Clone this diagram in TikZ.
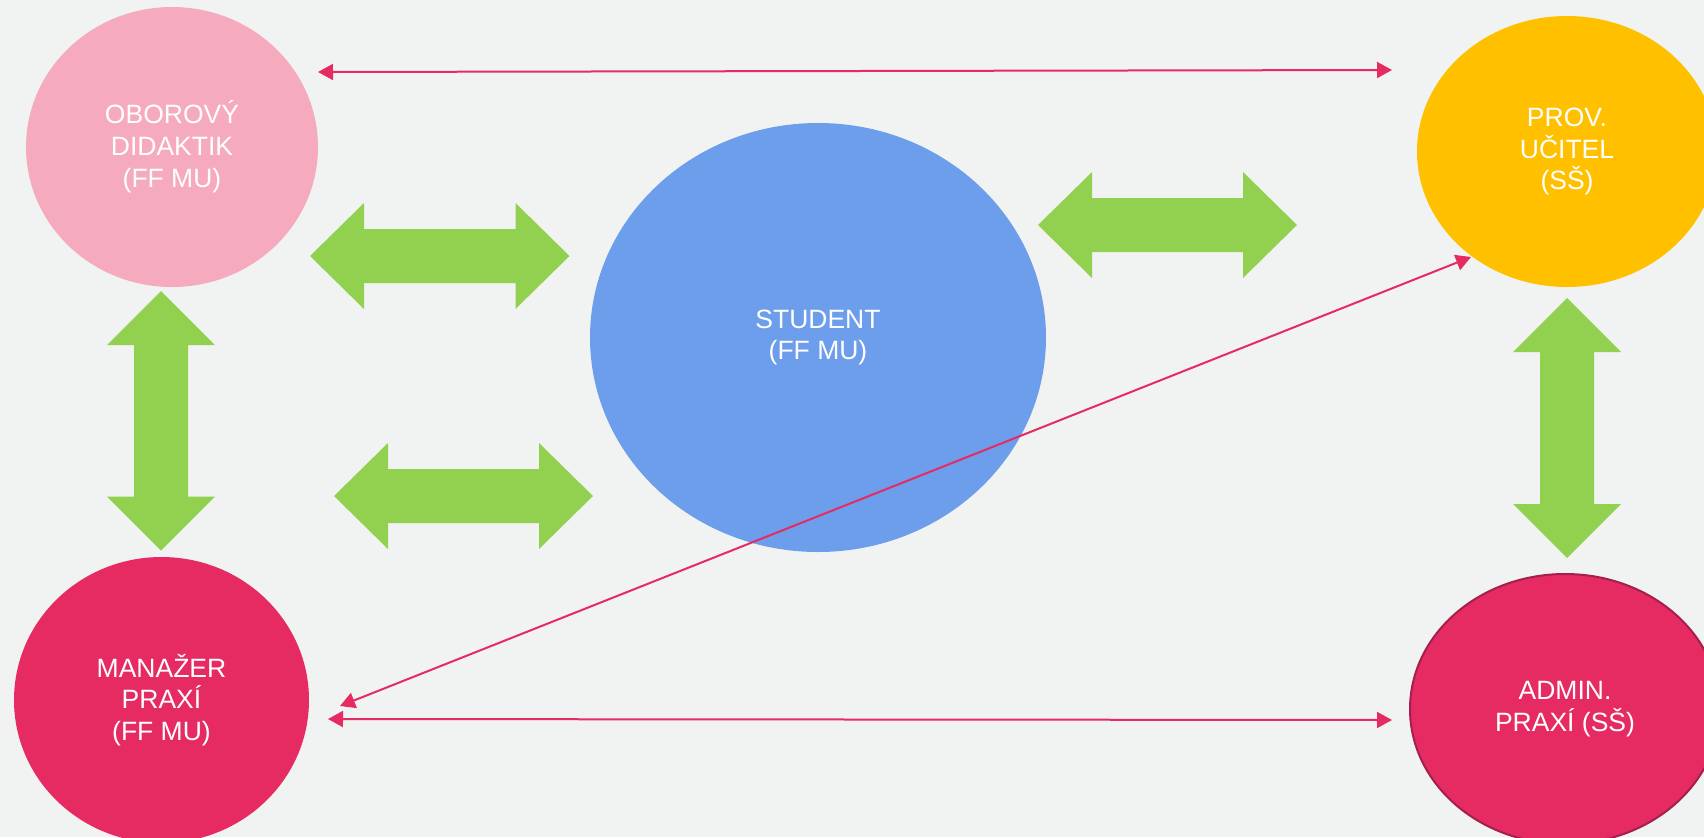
\documentclass[tikz,border=0pt]{standalone}
\usepackage{fontspec}
\setmainfont{Liberation Sans}
\usetikzlibrary{shapes.geometric,arrows.meta}
\definecolor{bgc}{HTML}{F1F3F2}
\definecolor{pinkc}{HTML}{F5AABE}
\definecolor{yellowc}{HTML}{FFC000}
\definecolor{bluec}{HTML}{6D9EEB}
\definecolor{magentac}{HTML}{E52B62}
\definecolor{greenc}{HTML}{92D050}
\definecolor{adminborder}{HTML}{A51F4E}
\newcommand\hdarrow[3]{%
  \fill[greenarr] (#1,#3) -- (#1+54,#3-53) -- (#1+54,#3-27) -- (#2-54,#3-27) -- (#2-54,#3-53) -- (#2,#3)
    -- (#2-54,#3+53) -- (#2-54,#3+27) -- (#1+54,#3+27) -- (#1+54,#3+53) -- cycle;}
\newcommand\vdarrow[3]{%
  \fill[greenarr] (#3,#1) -- (#3-54,#1+54) -- (#3-27,#1+54) -- (#3-27,#2-54) -- (#3-54,#2-54) -- (#3,#2)
    -- (#3+54,#2-54) -- (#3+27,#2-54) -- (#3+27,#1+54) -- (#3+54,#1+54) -- cycle;}
\begin{document}
\begin{tikzpicture}[x=0.5pt,y=-0.5pt,
  party/.style={ellipse, inner sep=0pt, outer sep=0pt, text=white, align=center,
    font=\fontsize{13.25pt}{15.9pt}\selectfont},
  link/.style={draw=magentac, line width=1pt,
    {Triangle[length=7.5pt,width=8pt]}-{Triangle[length=7.5pt,width=8pt]}},
  greenarr/.style={fill=greenc}]
\useasboundingbox (0,0) rectangle (1704,837);
\clip (0,0) rectangle (1704,837);
\fill[bgc] (0,0) rectangle (1704,837);
\node[party, fill=pinkc, minimum width=146pt, minimum height=140pt] (did) at (172,147) {OBOROVÝ\\DIDAKTIK\\(FF MU)};
\node[party, fill=yellowc, minimum width=150pt, minimum height=135.5pt] (ucit) at (1567,151.5) {PROV.\\UČITEL\\(SŠ)};
\node[party, fill=bluec, minimum width=228pt, minimum height=214.5pt] (stud) at (818,337.5) {STUDENT\\(FF MU)};
\node[party, fill=magentac, minimum width=147.5pt, minimum height=143pt] (man) at (161.5,700) {MANAŽER\\PRAXÍ\\(FF MU)};
\node[party, fill=magentac, draw=adminborder, line width=1pt, minimum width=155pt, minimum height=135pt] (adm) at (1565,709) {ADMIN.\\PRAXÍ (SŠ)};
% green double arrows
\hdarrow{310}{569.5}{256}
\hdarrow{334}{593}{496}
\hdarrow{1038}{1297}{225}
\vdarrow{291}{550.7}{161}
\vdarrow{298}{558}{1567}
% red links
\coordinate (t1) at (318,72);
\coordinate (t2) at (1392,70);
\coordinate (b1) at (328,719);
\coordinate (b2) at (1392,720);
\coordinate (d1) at (340,706);
\coordinate (d2) at (1471,257);
\draw[link] (t1) -- (t2);
\draw[link] (b1) -- (b2);
\draw[link] (d1) -- (d2);
\end{tikzpicture}
\end{document}
